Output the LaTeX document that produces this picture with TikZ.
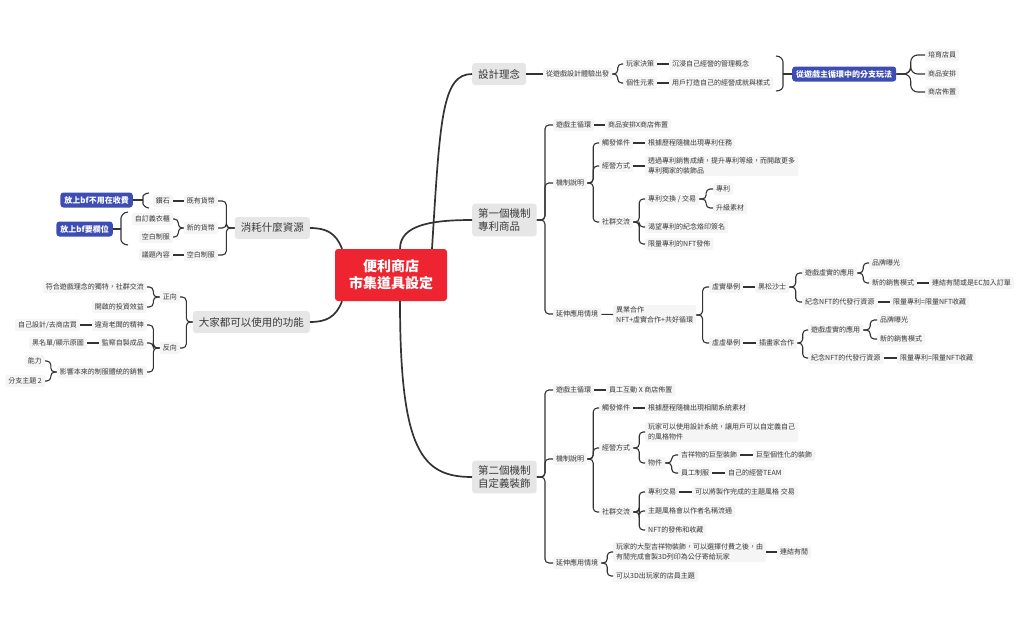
\documentclass[tikz,border=0pt]{standalone}
\usepackage{fontspec}
\setmainfont{Noto Sans CJK TC}
\usetikzlibrary{calc}
\definecolor{linec}{HTML}{333333}
\definecolor{textc}{HTML}{3A3A3A}
\definecolor{rootred}{HTML}{EE2430}
\definecolor{topicgray}{HTML}{E6E6E6}
\definecolor{subgray}{HTML}{F5F5F5}
\definecolor{summblue}{HTML}{3D4DB4}
\tikzset{
    root/.style={
        fill=rootred, text=white, rounded corners=3pt, align=center,
        minimum width=112pt, minimum height=52pt,
        font=\fontsize{14}{17}\selectfont\bfseries
    },
    topic/.style={
        fill=topicgray, text=textc, rounded corners=3pt, align=left,
        inner xsep=6pt, inner ysep=5pt, minimum height=22pt,
        font=\fontsize{10.5}{13}\selectfont
    },
    sub/.style={
        fill=subgray, text=textc, rounded corners=2pt, align=left,
        inner xsep=3pt, inner ysep=2pt, minimum height=12pt,
        font=\fontsize{7}{9.5}\selectfont
    },
    subr/.style={sub, anchor=west},
    subl/.style={sub, anchor=east},
    summ/.style={
        fill=summblue, text=white, rounded corners=3pt,
        inner xsep=4pt, minimum height=15pt,
        font=\fontsize{8}{10}\selectfont\bfseries
    },
    link/.style={draw=linec, line width=1.1pt, rounded corners=4pt},
    mainlink/.style={draw=linec, line width=1.7pt}
}
% branch to the right / to the left
\newcommand\brR[2]{\draw[link] (#1.east) -- ($(#1.east)!.5!(#1.east -| #2.west)$) |- (#2.west);}
\newcommand\brL[2]{\draw[link] (#1.west) -- ($(#1.west)!.5!(#1.west -| #2.east)$) |- (#2.east);}

\begin{document}
\begin{tikzpicture}[x=1pt, y=-1pt]
    \useasboundingbox (0,0) rectangle (1018,630);

    \node[root] (root) at (391,275) {便利商店\\市集道具設定};

    \node[topic, anchor=west] (t1) at (472,74) {設計理念};
    \node[topic, anchor=west] (t2) at (472,220) {第一個機制\\專利商品};
    \node[topic, anchor=west] (t3) at (472,477) {第二個機制\\自定義裝飾};
    \node[topic, anchor=east] (t4) at (310,228) {消耗什麼資源};
    \node[topic, anchor=east] (t5) at (310,322) {大家都可以使用的功能};

    \draw[mainlink] ([xshift=41pt]root.north) .. controls +(8,-130) and +(-30,0) .. (t1.west);
    \draw[mainlink] ([xshift=9pt]root.north) .. controls +(0,-24) and +(-40,0) .. (t2.west);
    \draw[mainlink] ([xshift=9pt]root.south) .. controls +(0,150) and +(-50,0) .. (t3.west);
    \draw[mainlink] ([xshift=-49pt]root.north) .. controls +(-6,-16) and +(16,0) .. (t4.east);
    \draw[mainlink] ([xshift=-49pt]root.south) .. controls +(-6,16) and +(16,0) .. (t5.east);

    % 設計理念
    \node[subr] (a1) at (543,74) {從遊戲設計體驗出發};
    \node[subr] (a2) at (623,64) {玩家決策};
    \node[subr] (a3) at (623,83) {個性元素};
    \node[subr] (a4) at (669,64) {沉浸自己經營的管理概念};
    \node[subr] (a5) at (669,83) {用戶打造自己的經營成就與樣式};
    \node[summ, anchor=west] (s1) at (792,74) {從遊戲主循環中的分支玩法};
    \node[subr] (a6) at (925,55) {培育店員};
    \node[subr] (a7) at (925,74) {商品安排};
    \node[subr] (a8) at (925,92) {商店佈置};
    \draw[link] (t1) -- (a1);
    \brR{a1}{a2} \brR{a1}{a3}
    \draw[link] (a2) -- (a4);
    \draw[link] (a3) -- (a5);
    \coordinate (k1) at (783,74);
    \draw[link] (776,56) .. controls (781,56) and (783,60) .. (783,66) -- (783,82) .. controls (783,88) and (781,91) .. (776,91);
    \draw[link] (k1) -- (s1.west);
    \begin{scope}[link/.append style={rounded corners=7pt}]
        \brR{s1}{a6} \brR{s1}{a7} \brR{s1}{a8}
    \end{scope}

    % 第一個機制
    \node[subr] (b1) at (553,125) {遊戲主循環};
    \node[subr] (b2) at (605,125) {商品安排X商店佈置};
    \node[subr] (b3) at (553,183) {機制說明};
    \node[subr] (b4) at (599,143) {觸發條件};
    \node[subr] (b5) at (645,143) {根據歷程隨機出現專利任務};
    \node[subr] (b6) at (599,166) {經營方式};
    \node[subr] (b7) at (645,166) {透過專利銷售成績，提升專利等級，而開啟更多\\專利獨家的裝飾品};
    \node[subr] (b8) at (599,222) {社群交流};
    \node[subr] (b9) at (645,199) {專利交換 / 交易};
    \node[subr] (b10) at (713,189) {專利};
    \node[subr] (b11) at (713,208) {升級素材};
    \node[subr] (b12) at (645,227) {渴望專利的紀念烙印簽名};
    \node[subr] (b13) at (645,244) {限量專利的NFT發佈};
    \node[subr] (b14) at (553,314) {延伸應用情境};
    \node[subr] (b15) at (613,315) {異業合作\\NFT+虛實合作+共好循環};
    \node[subr] (b16) at (709,287) {虛實舉例};
    \node[subr] (b17) at (755,287) {黑松沙士};
    \node[subr] (b18) at (802,273) {遊戲虛實的應用};
    \node[subr] (b19) at (869,263) {品牌曝光};
    \node[subr] (b20) at (869,283) {新的銷售模式};
    \node[subr] (b21) at (929,283) {連結有閒或是EC加入訂單};
    \node[subr] (b22) at (802,302) {紀念NFT的代發行資源};
    \node[subr] (b23) at (890,302) {限量專利=限量NFT收藏};
    \node[subr] (b24) at (709,343) {虛虛舉例};
    \node[subr] (b25) at (756,343) {插畫家合作};
    \node[subr] (b26) at (808,330) {遊戲虛實的應用};
    \node[subr] (b27) at (877,320) {品牌曝光};
    \node[subr] (b28) at (877,339) {新的銷售模式};
    \node[subr] (b29) at (808,358) {紀念NFT的代發行資源};
    \node[subr] (b30) at (897,358) {限量專利=限量NFT收藏};
    \brR{t2}{b1} \brR{t2}{b3} \brR{t2}{b14}
    \draw[link] (b1) -- (b2);
    \brR{b3}{b4} \brR{b3}{b6} \brR{b3}{b8}
    \draw[link] (b4) -- (b5);
    \draw[link] (b6) -- (b7);
    \brR{b8}{b9} \brR{b8}{b12} \brR{b8}{b13}
    \brR{b9}{b10} \brR{b9}{b11}
    \draw[link] (b14) -- (b15);
    \brR{b15}{b16} \brR{b15}{b24}
    \draw[link] (b16) -- (b17);
    \brR{b17}{b18} \brR{b17}{b22}
    \brR{b18}{b19} \brR{b18}{b20}
    \draw[link] (b20) -- (b21);
    \draw[link] (b22) -- (b23);
    \draw[link] (b24) -- (b25);
    \brR{b25}{b26} \brR{b25}{b29}
    \brR{b26}{b27} \brR{b26}{b28}
    \draw[link] (b29) -- (b30);

    % 第二個機制
    \node[subr] (c1) at (553,390) {遊戲主循環};
    \node[subr] (c2) at (606,390) {員工互動 X 商店佈置};
    \node[subr] (c3) at (553,459) {機制說明};
    \node[subr] (c4) at (599,408) {觸發條件};
    \node[subr] (c5) at (645,408) {根據歷程隨機出現相關系統素材};
    \node[subr] (c6) at (599,448) {經營方式};
    \node[subr] (c7) at (645,432) {玩家可以使用設計系統，讓用戶可以自定義自己\\的風格物件};
    \node[subr] (c8) at (645,463) {物件};
    \node[subr] (c9) at (678,455) {吉祥物的巨型裝飾};
    \node[subr] (c10) at (753,455) {巨型個性化的裝飾};
    \node[subr] (c11) at (678,473) {員工制服};
    \node[subr] (c12) at (725,473) {自己的經營TEAM};
    \node[subr] (c13) at (599,512) {社群交流};
    \node[subr] (c14) at (645,492) {專利交易};
    \node[subr] (c15) at (692,492) {可以將製作完成的主題風格 交易};
    \node[subr] (c16) at (645,511) {主題風格會以作者名稱流通};
    \node[subr] (c17) at (645,530) {NFT的發佈和收藏};
    \node[subr] (c18) at (553,563) {延伸應用情境};
    \node[subr] (c19) at (613,552) {玩家的大型吉祥物裝飾，可以選擇付費之後，由\\有閒完成會製3D列印為公仔寄給玩家};
    \node[subr] (c20) at (777,552) {連結有閒};
    \node[subr] (c21) at (613,576) {可以3D出玩家的店員主題};
    \brR{t3}{c1} \brR{t3}{c3} \brR{t3}{c18}
    \draw[link] (c1) -- (c2);
    \brR{c3}{c4} \brR{c3}{c6} \brR{c3}{c13}
    \draw[link] (c4) -- (c5);
    \brR{c6}{c7} \brR{c6}{c8}
    \brR{c8}{c9} \brR{c8}{c11}
    \draw[link] (c9) -- (c10);
    \draw[link] (c11) -- (c12);
    \brR{c13}{c14} \brR{c13}{c16} \brR{c13}{c17}
    \draw[link] (c14) -- (c15);
    \brR{c18}{c19} \brR{c18}{c21}
    \draw[link] (c19) -- (c20);

    % 消耗什麼資源
    \node[subl] (d1) at (218,201) {既有貨幣};
    \node[subl] (d2) at (173,201) {鑽石};
    \node[summ, anchor=east] (s2) at (133,200) {放上bf不用在收費};
    \node[subl] (d3) at (218,228) {新的貨幣};
    \node[subl] (d4) at (173,219) {自訂義衣櫃};
    \node[subl] (d5) at (173,237) {空白制服};
    \node[summ, anchor=east] (s3) at (113,229) {放上bf要欄位};
    \node[subl] (d6) at (218,255) {空白制服};
    \node[subl] (d7) at (173,255) {議題內容};
    \brL{t4}{d1} \brL{t4}{d3} \brL{t4}{d6}
    \draw[link] (d1) -- (d2);
    \brL{d3}{d4} \brL{d3}{d5}
    \draw[link] (d6) -- (d7);
    \coordinate (k2) at (143,200);
    \draw[link] (149,193) .. controls (145,193) and (143,196) .. (143,200) .. controls (143,204) and (145,208) .. (149,208);
    \draw[link] (k2) -- (s2.east);
    \coordinate (k3) at (121,229);
    \draw[link] (128,212) .. controls (123,212) and (121,217) .. (121,222) -- (121,236) .. controls (121,241) and (123,245) .. (128,245);
    \draw[link] (k3) -- (s3.east);

    % 大家都可以使用的功能
    \node[subl] (e1) at (180,297) {正向};
    \node[subl] (e2) at (147,287) {符合遊戲理念的獨特，社群交流};
    \node[subl] (e3) at (147,307) {開啟的投資效益};
    \node[subl] (e4) at (180,348) {反向};
    \node[subl] (e5) at (147,325) {違背老闆的精神};
    \node[subl] (e6) at (80,325) {自己設計/去商店買};
    \node[subl] (e7) at (147,343) {監察自製成品};
    \node[subl] (e8) at (87,343) {黑名單/顯示原圖};
    \node[subl] (e9) at (147,372) {影響本來的制服體統的銷售};
    \node[subl] (e10) at (45,361) {能力};
    \node[subl] (e11) at (45,381) {分支主題 2};
    \brL{t5}{e1} \brL{t5}{e4}
    \brL{e1}{e2} \brL{e1}{e3}
    \brL{e4}{e5} \brL{e4}{e7} \brL{e4}{e9}
    \draw[link] (e5) -- (e6);
    \draw[link] (e7) -- (e8);
    \brL{e9}{e10} \brL{e9}{e11}
\end{tikzpicture}
\end{document}
